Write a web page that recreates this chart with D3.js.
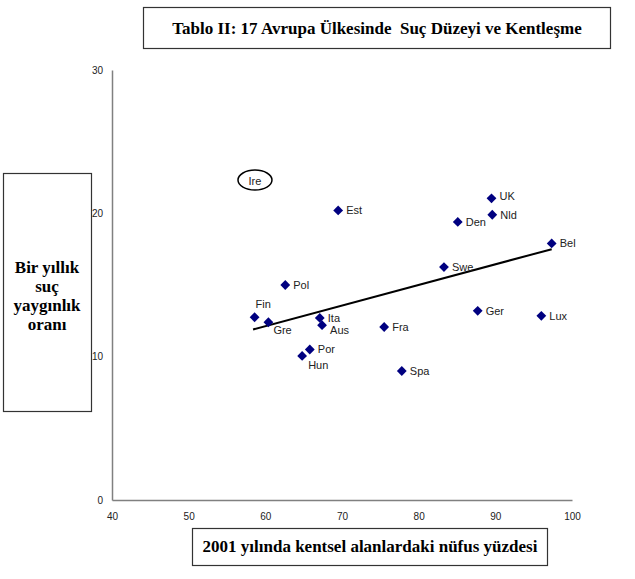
<!DOCTYPE html>
<html>
<head>
<meta charset="utf-8">
<script src="https://cdn.jsdelivr.net/npm/d3@7"></script>
<style>
  html, body { margin: 0; padding: 0; background: #fff; }
  svg { display: block; }
</style>
</head>
<body>
<svg id="chart" width="635" height="579"></svg>
<script>
// ---- data ----
const countries = ["Est","UK","Nld","Den","Bel","Swe","Pol","Fin","Gre","Ita","Aus","Fra","Ger","Lux","Por","Hun","Spa"];
const urbanPct  = [69.5, 89.5, 89.6, 85.1, 97.35, 83.3, 62.6, 58.6, 60.4, 67.1, 67.4, 75.5, 87.7, 96.0, 65.8, 64.8, 77.8];
const crimeRate = [20.2, 21.05, 19.9, 19.4, 17.9, 16.25, 15.0, 12.75, 12.4, 12.7, 12.2, 12.07, 13.2, 12.85, 10.5, 10.05, 9.0];
// highlighted label (no marker)
const highlightName = "Ire";
const highlightX = 58.65;
const highlightY = 22.25;
// trend line end points
const trendX = [58.4, 97.35];
const trendY = [11.9, 17.5];
const xTicks = [40, 50, 60, 70, 80, 90, 100];
const yTicks = [0, 10, 20, 30];
const titleText = "Tablo II: 17 Avrupa Ülkesinde  Suç Düzeyi ve Kentleşme";
const yLabelLines = ["Bir yıllık", "suç", "yaygınlık", "oranı"];
const xLabelText = "2001 yılında kentsel alanlardaki nüfus yüzdesi";

// label offsets (dx, dy) per country
const labelOffsets = {
  Fin: [1, -13], Gre: [5, 8], Aus: [8, 5], Hun: [6, 9], UK: [8, -2]
};

const svg = d3.select("#chart");
const x = d3.scaleLinear().domain([40, 100]).range([112, 572]);
const y = d3.scaleLinear().domain([0, 30]).range([500, 70]);

// axes
const xAxis = svg.append("g").attr("transform", "translate(0,500)")
  .call(d3.axisBottom(x).tickValues(xTicks).tickSize(0).tickPadding(13));
const yAxis = svg.append("g").attr("transform", "translate(112,0)")
  .call(d3.axisLeft(y).tickValues(yTicks).tickSize(0).tickPadding(9));
[xAxis, yAxis].forEach(g => {
  g.select(".domain").attr("stroke", "#808080").attr("stroke-width", 1.5);
  g.selectAll("text").attr("font-family", "Liberation Sans, Arial, sans-serif")
    .attr("font-size", 10).attr("fill", "#222");
});

// trend line
svg.append("line")
  .attr("x1", x(trendX[0])).attr("y1", y(trendY[0]))
  .attr("x2", x(trendX[1])).attr("y2", y(trendY[1]))
  .attr("stroke", "#000").attr("stroke-width", 2);

// points
const data = countries.map((c, i) => ({ name: c, ux: urbanPct[i], cy: crimeRate[i] }));
const diamond = d3.symbol().type(d3.symbolSquare).size(48);
svg.append("g").selectAll("path").data(data).join("path")
  .attr("d", diamond)
  .attr("transform", d => `translate(${x(d.ux)},${y(d.cy)}) rotate(45)`)
  .attr("fill", "#000080");

svg.append("g").selectAll("text").data(data).join("text")
  .attr("x", d => x(d.ux) + (labelOffsets[d.name] ? labelOffsets[d.name][0] : 8))
  .attr("y", d => y(d.cy) + (labelOffsets[d.name] ? labelOffsets[d.name][1] : 0))
  .attr("dy", "0.35em")
  .attr("font-family", "Liberation Sans, Arial, sans-serif")
  .attr("font-size", 11)
  .attr("fill", "#222")
  .text(d => d.name);

// highlighted Ire label with ellipse
svg.append("ellipse")
  .attr("cx", x(highlightX)).attr("cy", y(highlightY) - 1)
  .attr("rx", 17).attr("ry", 10)
  .attr("fill", "none").attr("stroke", "#000").attr("stroke-width", 1.5);
svg.append("text")
  .attr("x", x(highlightX)).attr("y", y(highlightY))
  .attr("dy", "0.35em").attr("text-anchor", "middle")
  .attr("font-family", "Liberation Sans, Arial, sans-serif")
  .attr("font-size", 11).attr("fill", "#222")
  .text(highlightName);

// title box
const serif = "Liberation Serif, Times New Roman, serif";
svg.append("rect").attr("x", 143.5).attr("y", 7.5).attr("width", 467).attr("height", 41)
  .attr("fill", "#fff").attr("stroke", "#333").attr("stroke-width", 1.2);
svg.append("text").attr("x", 377).attr("y", 34).attr("text-anchor", "middle")
  .attr("font-family", serif).attr("font-weight", "bold").attr("font-size", 17)
  .attr("fill", "#000").attr("xml:space", "preserve").style("white-space", "pre")
  .text(titleText);

// y label box
svg.append("rect").attr("x", 3.5).attr("y", 173.5).attr("width", 88).attr("height", 238)
  .attr("fill", "#fff").attr("stroke", "#333").attr("stroke-width", 1.2);
svg.append("g").selectAll("text").data(yLabelLines).join("text")
  .attr("x", 47).attr("y", (d, i) => 273 + i * 19).attr("text-anchor", "middle")
  .attr("font-family", serif).attr("font-weight", "bold").attr("font-size", 17)
  .attr("fill", "#000").text(d => d);

// x label box
svg.append("rect").attr("x", 192.5).attr("y", 528.5).attr("width", 355).attr("height", 37)
  .attr("fill", "#fff").attr("stroke", "#333").attr("stroke-width", 1.2);
svg.append("text").attr("x", 370).attr("y", 552).attr("text-anchor", "middle")
  .attr("font-family", serif).attr("font-weight", "bold").attr("font-size", 17)
  .attr("fill", "#000").text(xLabelText);
</script>
</body>
</html>
